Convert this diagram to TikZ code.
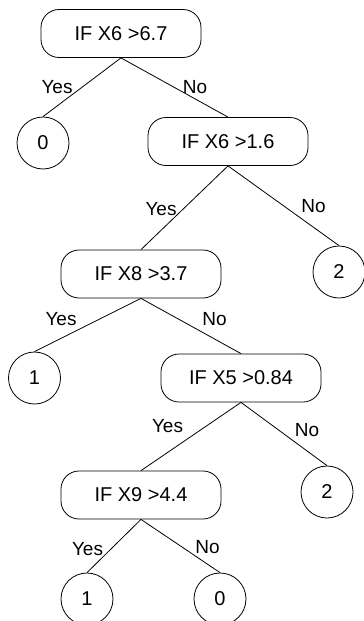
\documentclass[tikz,border=0pt]{standalone}
\usepackage{fontspec}
\setmainfont{Liberation Sans}
\begin{document}
\begin{tikzpicture}[x=1pt,y=1pt,
  every node/.style={font=\fontsize{19}{22}\selectfont},
  testbox/.style={draw, line width=0.8pt, rounded corners=18pt, inner sep=0pt,
    minimum width=160pt, minimum height=48pt, font=\fontsize{20}{23}\selectfont},
  leaf/.style={draw, line width=0.8pt, circle, inner sep=0pt, minimum size=52pt,
    font=\fontsize{20}{23}\selectfont},
  branch/.style={line width=0.8pt},
  answer/.style={inner sep=0pt}]
\useasboundingbox (0,0) rectangle (364,-621);

% decision nodes
\node[testbox] (b1) at (121,-33.5) {IF X6 >6.7};
\node[testbox] (b2) at (228,-141.5) {IF X6 >1.6};
\node[testbox] (b3) at (141,-274) {IF X8 >3.7};
\node[testbox] (b4) at (241,-378) {IF X5 >0.84};
\node[testbox] (b5) at (141,-495) {IF X9 >4.4};

% class leaves
\node[leaf] (c0) at (43,-143) {0};
\node[leaf] (c2a) at (339,-272) {2};
\node[leaf] (c1a) at (34.5,-378) {1};
\node[leaf] (c2b) at (327,-492) {2};
\node[leaf] (c1b) at (87,-599) {1};
\node[leaf] (c0b) at (220,-599) {0};

% branches
\draw[branch] (b1.south) -- (c0.north);
\draw[branch] (b1.south) -- (b2.north);
\draw[branch] (b2.south) -- (b3.north);
\draw[branch] (b2.south) -- (c2a.north);
\draw[branch] (b3.south) -- (c1a.north);
\draw[branch] (b3.south) -- (b4.north);
\draw[branch] (b4.south) -- (b5.north);
\draw[branch] (b4.south) -- (c2b.north);
\draw[branch] (b5.south) -- (c1b.north);
\draw[branch] (b5.south) -- (c0b.north);

% branch labels
\node[answer] (y1) at (57,-87) {Yes};
\node[answer] (n1) at (195,-87) {No};
\node[answer] (y2) at (161,-209) {Yes};
\node[answer] (n2) at (313.5,-206.5) {No};
\node[answer] (y3) at (61,-319) {Yes};
\node[answer] (n3) at (214.5,-319) {No};
\node[answer] (y4) at (167.5,-426) {Yes};
\node[answer] (n4) at (307,-430) {No};
\node[answer] (y5) at (87.5,-549) {Yes};
\node[answer] (n5) at (207.5,-547.5) {No};
\end{tikzpicture}
\end{document}
